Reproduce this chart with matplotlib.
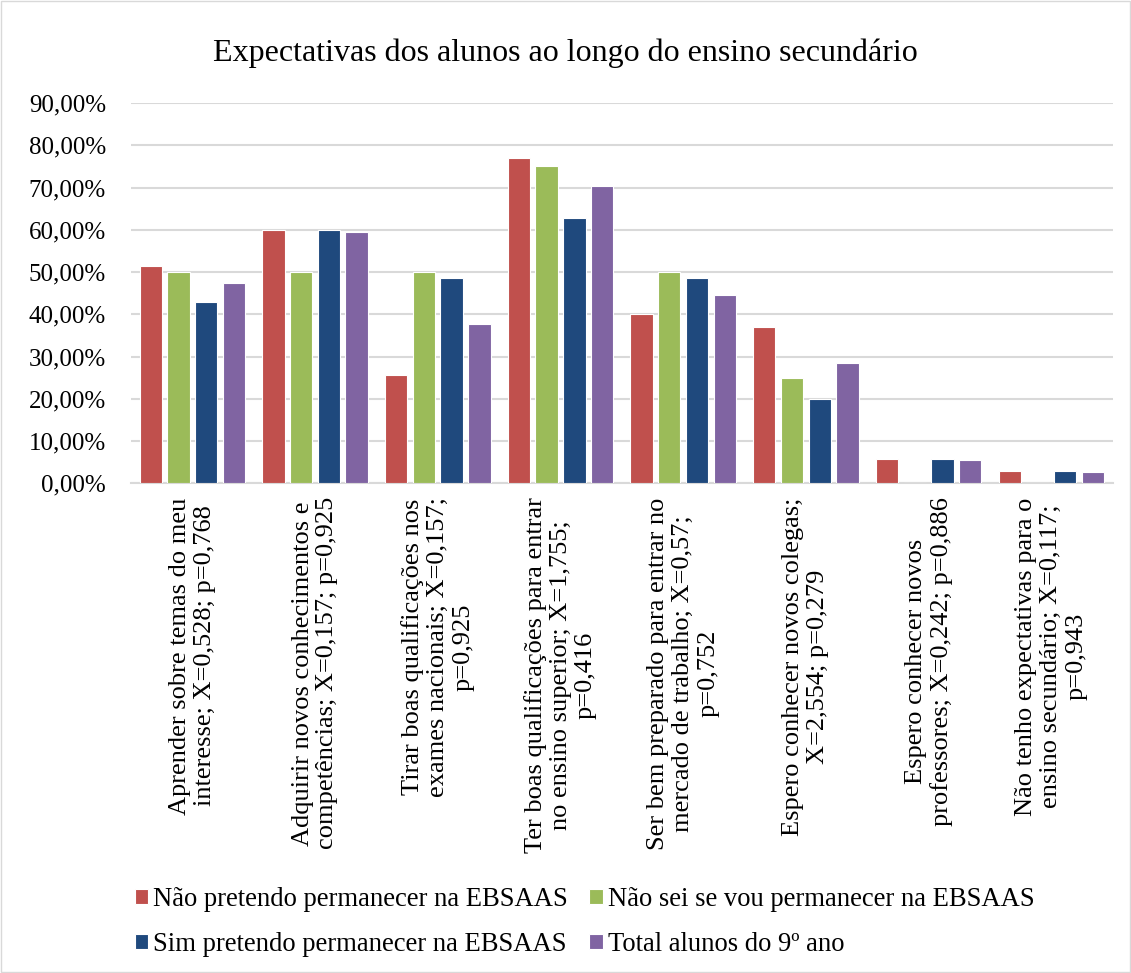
import matplotlib
matplotlib.use("Agg")
import matplotlib.pyplot as plt
from matplotlib.patches import Rectangle
from matplotlib.ticker import FuncFormatter
import numpy as np

plt.rcParams['font.family'] = ['Liberation Serif', 'DejaVu Serif']

categories = [
    "Aprender sobre temas do meu\ninteresse; X=0,528; p=0,768",
    "Adquirir novos conhecimentos e\ncompetências; X=0,157; p=0,925",
    "Tirar boas qualificações nos\nexames nacionais; X=0,157;\np=0,925",
    "Ter boas qualificações para entrar\nno ensino superior; X=1,755;\np=0,416",
    "Ser bem preparado para entrar no\nmercado de trabalho; X=0,57;\np=0,752",
    "Espero conhecer novos colegas;\nX=2,554; p=0,279",
    "Espero conhecer novos\nprofessores; X=0,242; p=0,886",
    "Não tenho expectativas para o\nensino secundário; X=0,117;\np=0,943",
]
series_names = [
    "Não pretendo permanecer na EBSAAS",
    "Não sei se vou permanecer na EBSAAS",
    "Sim pretendo permanecer na EBSAAS",
    "Total alunos do 9º ano",
]
nao_pretendo = [51.4, 60.0, 25.7, 77.1, 40.0, 37.1, 5.7, 2.9]
nao_sei = [50.0, 50.0, 50.0, 75.0, 50.0, 25.0, 0.0, 0.0]
sim_pretendo = [42.9, 60.0, 48.6, 62.9, 48.6, 20.0, 5.7, 2.9]
total = [47.3, 59.5, 37.8, 70.3, 44.6, 28.4, 5.4, 2.7]
colors = ["#C0504D", "#9BBB59", "#1F497D", "#8064A2"]

fig = plt.figure(figsize=(11.31, 9.73), dpi=100)
fig.add_artist(Rectangle((0.001, 0.001), 0.998, 0.998, transform=fig.transFigure,
                         fill=False, edgecolor="#D9D9D9", linewidth=1))
ax = fig.add_axes([0.1158, 0.5033, 0.868, 0.3908])

x = np.arange(len(categories))
width = 0.182
pitch = 0.226
handles = []
for i, (vals, name, c) in enumerate(zip([nao_pretendo, nao_sei, sim_pretendo, total], series_names, colors)):
    h = ax.bar(x + (i - 1.5) * pitch, vals, width, color=c, edgecolor="white",
               linewidth=0.8, label=name, zorder=3)
    handles.append(h)

ax.set_xlim(-0.5, len(categories) - 0.5)
ax.set_ylim(0, 90)
ax.set_yticks(np.arange(0, 91, 10))
ax.yaxis.set_major_formatter(FuncFormatter(lambda v, p: f"{v:.2f}%".replace(".", ",")))
ax.grid(axis="y", color="#D9D9D9", linewidth=1.5, zorder=0)
for s in ["top", "right", "left"]:
    ax.spines[s].set_visible(False)
ax.spines["bottom"].set_color("#D9D9D9")
ax.spines["bottom"].set_linewidth(1.5)
ax.tick_params(axis="both", length=0)
ax.tick_params(axis="y", pad=18, labelsize=18)
ax.set_xticks(x)
ax.set_xticklabels(categories, rotation=90, ha="center", va="top",
                   multialignment="center", fontsize=19, linespacing=1.17)
ax.tick_params(axis="x", pad=10)

fig.text(0.5, 0.945, "Expectativas dos alunos ao longo do ensino secundário",
         ha="center", va="center", fontsize=23)

order = [0, 2, 1, 3]
leg = fig.legend([handles[i] for i in order], [series_names[i] for i in order],
                 ncol=2, loc="lower center", bbox_to_anchor=(0.517, -0.008),
                 frameon=False, prop={'family': 'Liberation Serif', 'size': 19.2},
                 handlelength=0.5, handleheight=0.5,
                 handletextpad=0.2, columnspacing=0.8, labelspacing=0.75)

fig.savefig("out.png", dpi=100)
